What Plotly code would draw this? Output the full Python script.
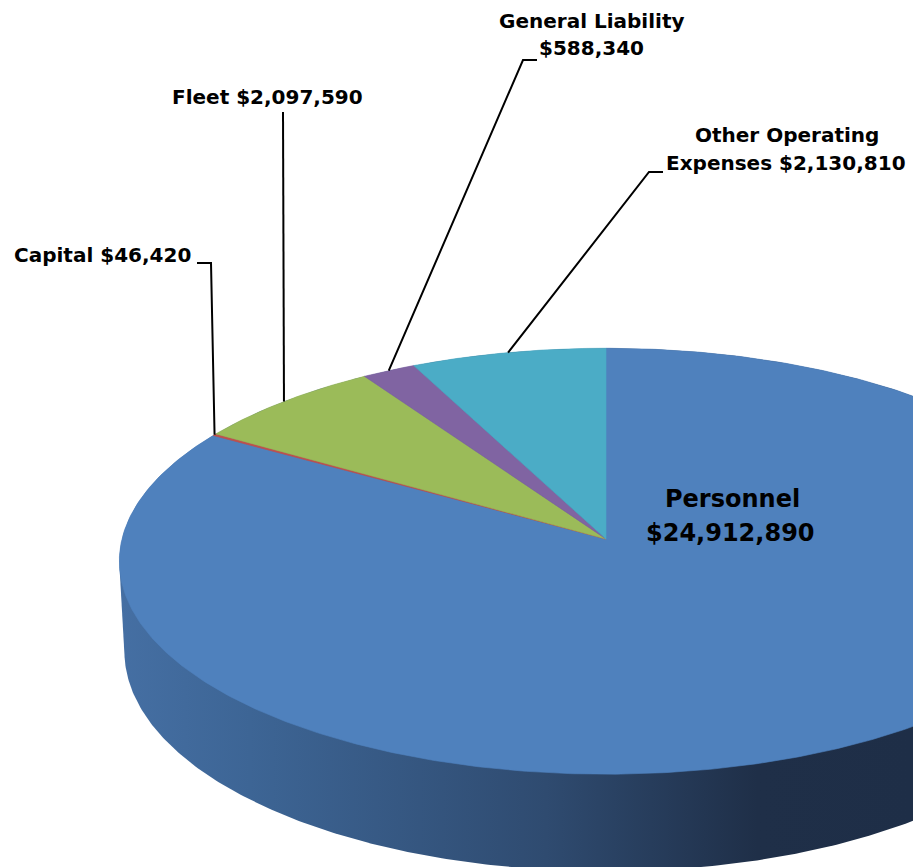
import numpy as np
import plotly.graph_objects as go

# ---------------- data ----------------
categories = ["Personnel", "Capital", "Fleet", "General Liability", "Other Operating Expenses"]
values = [24912890, 46420, 2097590, 588340, 2130810]
colors = ["#4F81BD", "#C0504D", "#9BBB59", "#8064A2", "#4BACC6"]

# label lines (text) for each category
label_lines = {
    "Personnel": ["Personnel", "$24,912,890"],
    "Capital": ["Capital $46,420"],
    "Fleet": ["Fleet $2,097,590"],
    "General Liability": ["General Liability", "$588,340"],
    "Other Operating Expenses": ["Other Operating", "Expenses $2,130,810"],
}

# ---------------- 3D projection geometry ----------------
W, Hpx = 913, 867
CX, CY = 606, 539          # screen position of pie centre
D = 8.63                   # camera distance (pie radius = 1)
F = 4177                   # focal scale
ELEV = np.radians(25.8)    # camera elevation
THICK = 0.208              # pie thickness (relative to radius)
ce, se = np.cos(ELEV), np.sin(ELEV)


def proj(X, Y, z):
    depth = D + Y * ce - z * se
    px = CX + F * X / depth
    py = CY - F * (Y * se + z * ce) / depth
    return px, py


def rim(theta_deg, z=0.0):
    t = np.radians(theta_deg)
    return proj(np.sin(t), np.cos(t), z)


def convex_hull(points):
    pts = sorted(set(points))
    def cross(o, a, b):
        return (a[0] - o[0]) * (b[1] - o[1]) - (a[1] - o[1]) * (b[0] - o[0])
    lower, upper = [], []
    for p in pts:
        while len(lower) >= 2 and cross(lower[-2], lower[-1], p) <= 0:
            lower.pop()
        lower.append(p)
    for p in reversed(pts):
        while len(upper) >= 2 and cross(upper[-2], upper[-1], p) <= 0:
            upper.pop()
        upper.append(p)
    return lower[:-1] + upper[:-1]


fig = go.Figure()

# ---- side wall (silhouette of the cylinder) with horizontal gradient ----
th = np.linspace(0, 360, 721)
tx, ty = rim(th, 0.0)
bx, by = rim(th, -THICK)
pts = [(round(a, 3), round(b, 3)) for a, b in zip(np.r_[tx, bx], np.r_[ty, by])]
hull = convex_hull(pts)
hx = [p[0] for p in hull] + [hull[0][0]]
hy = [p[1] for p in hull] + [hull[0][1]]
fig.add_trace(go.Scatter(
    x=hx, y=hy, mode="lines", line=dict(width=0), fill="toself",
    fillgradient=dict(type="horizontal", start=120, stop=913,
                      colorscale=[[0, "#456fa3"], [0.164, "#3d6595"], [0.537, "#2f4b70"],
                                  [0.803, "#1f2f48"], [1, "#1e2e47"]]),
    hoverinfo="skip", showlegend=False))

# ---- top face slices ----
total = float(sum(values))
angles = np.cumsum([0] + [v / total * 360 for v in values])
mids = {}
for i, cat in enumerate(categories):
    a0, a1 = angles[i], angles[i + 1]
    n = max(3, int((a1 - a0) * 2))
    arc = np.linspace(a0, a1, n)
    ax_, ay_ = rim(arc, 0.0)
    xs = [CX] + list(ax_) + [CX]
    ys = [CY] + list(ay_) + [CY]
    fig.add_trace(go.Scatter(
        x=xs, y=ys, mode="lines", line=dict(width=0.6, color=colors[i]),
        fill="toself", fillcolor=colors[i], name=cat,
        hoverinfo="skip", showlegend=False))
    mids[cat] = (a0 + a1) / 2

# ---- leader lines ----
elbows = {
    "Capital": [(211, 263), (197, 263)],
    "Fleet": [(283, 112)],
    "General Liability": [(523, 60), (537, 60)],
    "Other Operating Expenses": [(649, 172), (663, 172)],
}
for cat, pts_ in elbows.items():
    ax0, ay0 = rim(mids[cat], 0.0)
    xs = [float(ax0)] + [p[0] for p in pts_]
    ys = [float(ay0)] + [p[1] for p in pts_]
    fig.add_trace(go.Scatter(x=xs, y=ys, mode="lines", line=dict(color="black", width=2),
                             hoverinfo="skip", showlegend=False))

# ---- labels ----
label_pos = {
    "Personnel": [(732, 499, 24), (730, 533, 24)],
    "Capital": [(102, 255, 20)],
    "Fleet": [(267, 97, 20)],
    "General Liability": [(592, 21, 20), (591, 48, 20)],
    "Other Operating Expenses": [(787, 135, 20), (786, 163, 20)],
}
for cat in categories:
    for line, (x, y, s) in zip(label_lines[cat], label_pos[cat]):
        fig.add_annotation(x=x, y=y, xref="x", yref="y", text="<b>" + line + "</b>",
                           showarrow=False, xanchor="center", yanchor="middle",
                           font=dict(family="DejaVu Sans", size=s, color="black"))

fig.update_layout(
    width=W, height=Hpx, margin=dict(l=0, r=0, t=0, b=0),
    paper_bgcolor="white", plot_bgcolor="white",
    xaxis=dict(range=[0, W], visible=False, fixedrange=True),
    yaxis=dict(range=[Hpx, 0], visible=False, fixedrange=True),
    showlegend=False,
)

fig.write_html("out.html")
